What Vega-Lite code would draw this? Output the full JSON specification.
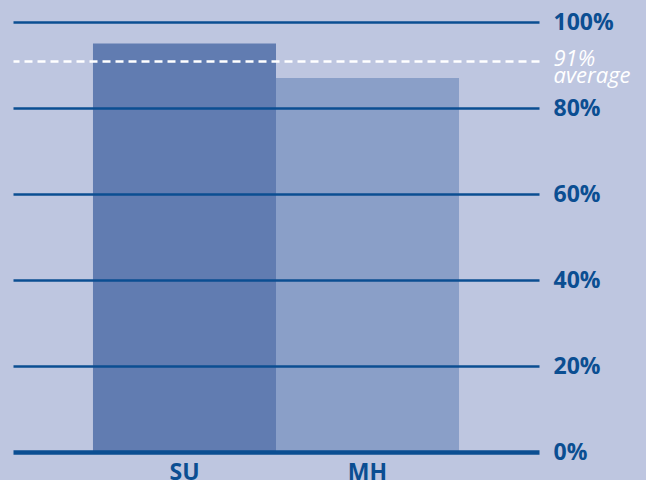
{
  "$schema": "https://vega.github.io/schema/vega-lite/v6.json",
  "width": 526,
  "height": 430,
  "autosize": {"type": "none"},
  "padding": {"left": 13, "top": 22, "right": 107, "bottom": 28},
  "background": "#bec6e0",
  "config": {"view": {"stroke": null}, "font": "Open Sans"},
  "data": {"values": [
    {"group": "SU", "percent": 95},
    {"group": "MH", "percent": 87}
  ]},
  "mark": {"type": "bar"},
  "encoding": {
    "x": {
      "field": "group", "type": "nominal", "sort": ["SU", "MH"],
      "scale": {"paddingInner": 0, "paddingOuter": 0.437},
      "axis": {
        "title": null, "domain": false, "ticks": false, "labelPadding": 9,
        "labelAngle": 0, "labelFont": "Open Sans", "labelFontSize": 23,
        "labelFontWeight": "bold", "labelColor": "#0b4e92"
      }
    },
    "y": {
      "field": "percent", "type": "quantitative",
      "scale": {"domain": [0, 100], "nice": false},
      "axis": {
        "orient": "right", "title": null, "domain": false, "ticks": false,
        "values": [0, 20, 40, 60, 80, 91, 100],
        "labelExpr": "datum.value == 91 ? ['91%', 'average'] : datum.value + '%'",
        "labelPadding": 14, "labelOverlap": false, "labelBound": false,
        "labelFont": "Open Sans", "labelLineHeight": 17,
        "labelOffset": {"condition": {"test": "datum.value == 91", "value": -2}, "value": 0},
        "labelFontSize": {"condition": {"test": "datum.value == 91", "value": 22}, "value": 23},
        "labelFontWeight": {"condition": {"test": "datum.value == 91", "value": "normal"}, "value": "bold"},
        "labelFontStyle": {"condition": {"test": "datum.value == 91", "value": "italic"}, "value": "normal"},
        "labelColor": {"condition": {"test": "datum.value == 91", "value": "#ffffff"}, "value": "#0b4e92"},
        "grid": true, "zindex": 1,
        "gridColor": {"condition": {"test": "datum.value == 91", "value": "#ffffff"}, "value": "#0b4e92"},
        "gridDash": {"condition": {"test": "datum.value == 91", "value": [8, 5]}, "value": []},
        "gridWidth": {"condition": {"test": "datum.value == 0", "value": 4.5}, "value": 2.5},
        "gridOpacity": 1
      }
    },
    "color": {
      "field": "group", "type": "nominal", "legend": null,
      "scale": {"domain": ["SU", "MH"], "range": ["#617cb1", "#8a9fc8"]}
    }
  }
}
